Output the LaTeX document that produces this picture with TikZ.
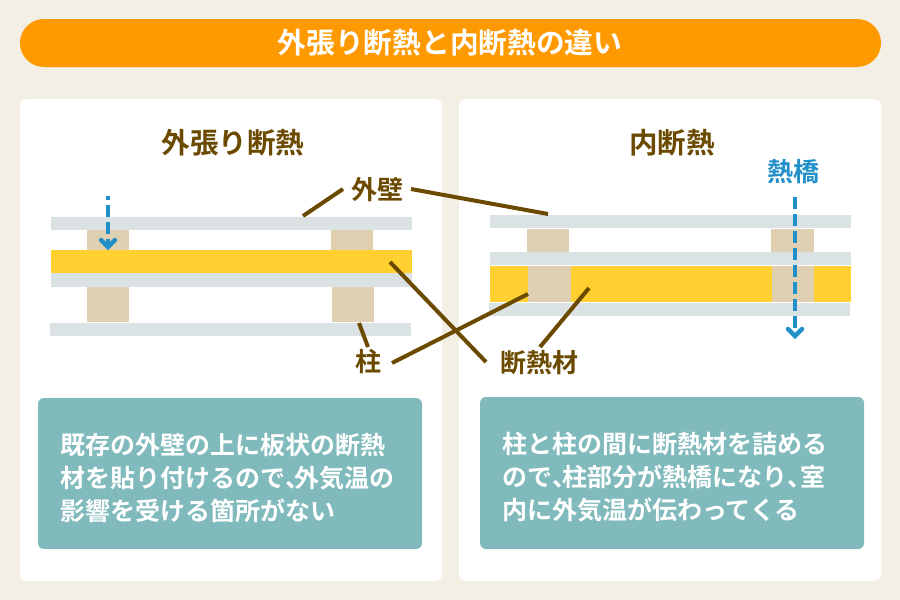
\documentclass[tikz,border=0pt]{standalone}
\usepackage{fontspec}
\newfontfamily\cjk{Noto Sans CJK JP Bold}
\newcommand{\halfcomma}{{\addfontfeature{RawFeature=+halt}、}}
\definecolor{bg}{HTML}{F4EFE5}
\definecolor{hdr}{HTML}{FF9900}
\definecolor{wallc}{HTML}{DBE2E4}
\definecolor{woodc}{HTML}{E0D0B2}
\definecolor{insc}{HTML}{FFD030}
\definecolor{tealc}{HTML}{80BABC}
\definecolor{brownc}{HTML}{6B4A00}
\definecolor{bluec}{HTML}{2290C8}
\tikzset{
 px/.style={x=1pt,y=-1pt},
 panel/.style={fill=white,rounded corners=7pt},
 wallr/.style={fill=wallc},
 woodr/.style={fill=woodc},
 insr/.style={fill=insc},
 note/.style={fill=tealc,rounded corners=6pt},
 leader/.style={draw=brownc,line width=4pt},
 heat/.style={draw=bluec,line width=4pt,dash pattern=on 12pt off 5pt},
 heathead/.style={draw=bluec,line width=4.5pt,line cap=round,line join=miter},
 ttl/.style={font=\cjk\fontsize{28.5}{28.5}\selectfont,text=brownc,inner sep=0pt},
 lbl/.style={font=\cjk\fontsize{26}{26}\selectfont,text=brownc,inner sep=0pt},
 bluelbl/.style={font=\cjk\fontsize{26}{26}\selectfont,text=bluec,inner sep=0pt},
 body/.style={font=\cjk\fontsize{25}{25}\selectfont,text=white,inner sep=0pt,anchor=west},
}
\begin{document}
\begin{tikzpicture}[px]
\useasboundingbox (0,0) rectangle (900,600);
\fill[bg] (0,0) rectangle (900,600);
\fill[hdr,rounded corners=23.9pt] (20,19) rectangle (881,67);
\node[font=\cjk\fontsize{28.7}{28.7}\selectfont,text=white,inner sep=0pt] (head) at (450,43) {外張り断熱と内断熱の違い};
\path[panel] (20,99) rectangle (442,581);
\path[panel] (459,99) rectangle (881,581);
\node[ttl] (t1) at (233,143) {外張り断熱};
\node[ttl] (t2) at (672,143) {内断熱};
% left section
\fill[woodr] (87,229) rectangle (129,251);
\fill[woodr] (331,229) rectangle (373,251);
\fill[woodr] (87,286) rectangle (129,322);
\fill[woodr] (332,286) rectangle (374,322);
\fill[wallr] (51,217) rectangle (412,230);
\fill[wallr] (51,273) rectangle (412,287);
\fill[wallr] (50,323) rectangle (411,336);
\fill[insr] (51,250) rectangle (412,273);
% right section
\fill[woodr] (527,229) rectangle (569,254);
\fill[woodr] (771,229) rectangle (814,254);
\fill[wallr] (490,215) rectangle (851,228);
\fill[wallr] (490,252) rectangle (851,265);
\fill[insr] (490,266) rectangle (851,302);
\fill[woodr] (528,266) rectangle (571,302);
\fill[woodr] (772,266) rectangle (814,302);
\fill[wallr] (489,303) rectangle (850,316);
% labels
\node[lbl] (w) at (377,190) {外壁};
\node[lbl] (p) at (368,362) {柱};
\node[lbl] (i) at (539,363) {断熱材};
\node[bluelbl] (hb) at (793,172) {熱橋};
% anchors
\coordinate (wa) at (303,216);
\coordinate (wb) at (343,189);
\coordinate (wc) at (411,189);
\coordinate (wd) at (548,214);
\coordinate (ia) at (390,262);
\coordinate (ib) at (486,362);
\coordinate (ic) at (540,347);
\coordinate (id) at (589,288);
\coordinate (pa) at (359,323);
\coordinate (pb) at (368,347);
\coordinate (pc) at (392,363);
\coordinate (pd) at (528,294);
\draw[leader] (wb) -- (wa);
\draw[leader] (wc) -- (wd);
\draw[leader] (ia) -- (ib);
\draw[leader] (ic) -- (id);
\draw[leader] (pb) -- (pa);
\draw[leader] (pc) -- (pd);
% arrows
\coordinate (ha) at (108,196);
\coordinate (hb1) at (108,246);
\coordinate (hc) at (795,197);
\coordinate (hd) at (795,334);
\draw[heat,dash phase=8pt] (ha) -- (hb1);
\draw[heat] (hc) -- (hd);
\draw[heathead] (101,240) -- (108,247) -- (115,240);
\draw[heathead] (788,329) -- (795,336) -- (802,329);
% notes
\path[note] (38,398) rectangle (422,549);
\path[note] (480,397) rectangle (864,549);
\node[body] (n1) at (60,445) {既存の外壁の上に板状の断熱};
\node[body] (n2) at (60,478) {材を貼り付けるので\halfcomma\kern-3pt 外気温の};
\node[body] (n3) at (60,511) {影響を受ける箇所がない};
\node[body] (m1) at (502,444) {柱と柱の間に断熱材を詰める};
\node[body] (m2) at (502,477) {ので\halfcomma\kern-2pt 柱部分が熱橋になり\halfcomma 室};
\node[body] (m3) at (502,510) {内に外気温が伝わってくる};
\end{tikzpicture}
\end{document}
